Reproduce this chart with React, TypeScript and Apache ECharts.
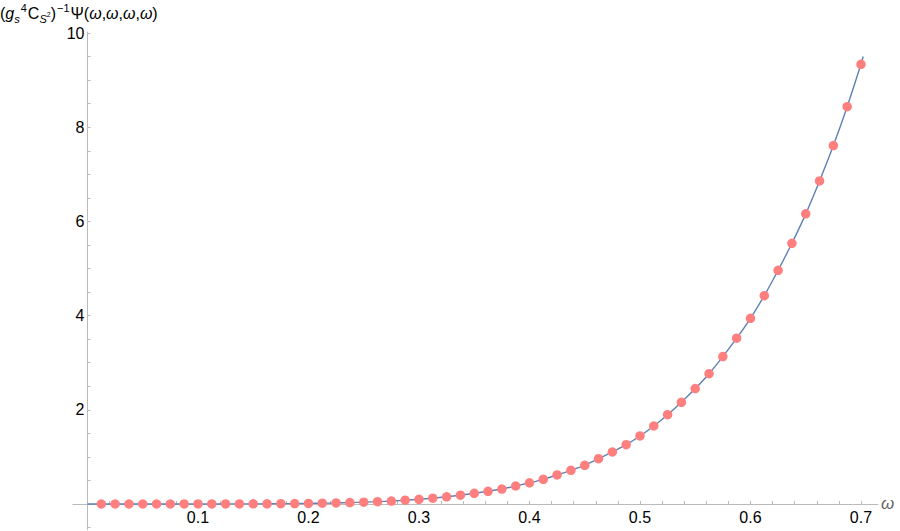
import React, { useEffect, useRef } from "react";
import * as echarts from "echarts";

// sample points (red dots)
const omega = [
  0.0125, 0.025, 0.0375, 0.05, 0.0625, 0.075, 0.0875, 0.1, 0.1125, 0.125,
  0.1375, 0.15, 0.1625, 0.175, 0.1875, 0.2, 0.2125, 0.225, 0.2375, 0.25,
  0.2625, 0.275, 0.2875, 0.3, 0.3125, 0.325, 0.3375, 0.35, 0.3625, 0.375,
  0.3875, 0.4, 0.4125, 0.425, 0.4375, 0.45, 0.4625, 0.475, 0.4875, 0.5,
  0.5125, 0.525, 0.5375, 0.55, 0.5625, 0.575, 0.5875, 0.6, 0.6125, 0.625,
  0.6375, 0.65, 0.6625, 0.675, 0.6875, 0.7,
];
const psiValues = [
  0, 0, 0, 0, 0.0001, 0.0001, 0.0002, 0.0004, 0.0007, 0.0012,
  0.0019, 0.0029, 0.0043, 0.0062, 0.0088, 0.0122, 0.0167, 0.0226, 0.03, 0.039,
  0.05, 0.063, 0.08, 0.1, 0.124, 0.153, 0.187, 0.227, 0.27, 0.318,
  0.382, 0.45, 0.524, 0.616, 0.715, 0.822, 0.962, 1.104, 1.259, 1.444,
  1.656, 1.896, 2.159, 2.45, 2.767, 3.13, 3.52, 3.943, 4.423, 4.962,
  5.535, 6.16, 6.86, 7.61, 8.435, 9.335,
];
// curve end points (blue line extends from 0 to slightly past 0.7)
const curveStart = [0, 0];
const curveEnd = [0.702, 9.5];

const xTickLabels = [0.1, 0.2, 0.3, 0.4, 0.5, 0.6, 0.7];
const yTickLabels = [2, 4, 6, 8, 10];

// plot ranges (include Mathematica-style padding around the axes)
const X_MIN = -0.0132;
const X_MAX = 0.7154;
const Y_MIN = -0.55;
const Y_MAX = 10.02;

export default function App() {
  const ref = useRef<HTMLDivElement>(null);
  useEffect(() => {
    if (!ref.current) return;
    const W = 900;
    const H = 531;
    const grid = { left: 72.9, right: 22, top: 32.06, bottom: 1.1 };
    const gw = W - grid.left - grid.right;
    const gh = H - grid.top - grid.bottom;
    // shift the axes so that they cross at the origin
    const xAxisOffset = -((0 - Y_MIN) / (Y_MAX - Y_MIN)) * gh;
    const yAxisOffset = -((0 - X_MIN) / (X_MAX - X_MIN)) * gw;

    const chart = echarts.init(ref.current, null, { renderer: "svg" });

    const dots = omega.map((w, i) => [w, psiValues[i]]);
    const curve = [curveStart, ...dots, curveEnd];

    const xMinor: number[] = [];
    for (let i = 1; i <= 35; i++) xMinor.push(+(i * 0.02).toFixed(2));
    const yMinor: number[] = [-0.5];
    for (let i = 1; i <= 20; i++) yMinor.push(i * 0.5);

    const axisGray = "#BBBBBB";
    const font = "Liberation Sans, Arial, sans-serif";

    chart.setOption({
      animation: false,
      backgroundColor: "#ffffff",
      grid: {
        ...grid,
        containLabel: false,
        outerBoundsMode: "none",
      },
      xAxis: {
        type: "value",
        min: X_MIN,
        max: X_MAX,
        offset: xAxisOffset,
        name: "ω",
        nameLocation: "end",
        nameGap: 3,
        nameMoveOverlap: false,
        nameTextStyle: {
          fontStyle: "italic",
          color: "#666666",
          fontSize: 17,
          fontFamily: font,
          verticalAlign: "middle",
        },
        axisLine: { show: true, onZero: false, lineStyle: { color: axisGray, width: 1 } },
        axisTick: {
          show: true,
          inside: true,
          length: 3,
          customValues: xMinor,
          lineStyle: { color: axisGray },
        },
        axisLabel: {
          customValues: xTickLabels,
          formatter: (v: number) => v.toFixed(1),
          color: "#000000",
          fontSize: 16,
          fontFamily: font,
          margin: 6,
        },
        splitLine: { show: false },
      },
      yAxis: {
        type: "value",
        min: Y_MIN,
        max: Y_MAX,
        offset: yAxisOffset,
        axisLine: { show: true, onZero: false, lineStyle: { color: axisGray, width: 1 } },
        axisTick: {
          show: true,
          inside: true,
          length: 3,
          customValues: yMinor,
          lineStyle: { color: axisGray },
        },
        axisLabel: {
          customValues: yTickLabels,
          formatter: (v: number) => String(v),
          color: "#000000",
          fontSize: 16,
          fontFamily: font,
          margin: 3,
        },
        splitLine: { show: false },
      },
      graphic: [
        {
          type: "text",
          left: 0,
          top: 1,
          style: {
            text:
              "{n|(}{i|g}{sub|s}{sup|4}{n|C}{sub|S}{sup2|2}{n|)}{sup|−1}{n|Ψ(}{i|ω}{n|,}{i|ω}{n|,}{i|ω}{n|,}{i|ω}{n|)}",
            rich: {
              n: { fontSize: 16, color: "#666666", fontFamily: font, lineHeight: 24, verticalAlign: "middle" },
              i: { fontSize: 16, color: "#666666", fontFamily: font, fontStyle: "italic", lineHeight: 24, verticalAlign: "middle" },
              sub: { fontSize: 11, color: "#666666", fontFamily: font, fontStyle: "italic", lineHeight: 24, verticalAlign: "bottom", padding: [0, 0, 1, 0] },
              sup: { fontSize: 11, color: "#666666", fontFamily: font, lineHeight: 24, verticalAlign: "top", padding: [1, 1, 0, 1] },
              sup2: { fontSize: 7, color: "#666666", fontFamily: font, lineHeight: 24, verticalAlign: "bottom", padding: [0, 0, 7, 0] },
            },
          },
        },
      ],
      series: [
        {
          type: "line",
          data: curve,
          showSymbol: false,
          smooth: 0.3,
          lineStyle: { color: "#5E81B5", width: 1.4 },
          z: 2,
        },
        {
          type: "scatter",
          data: dots,
          symbol: "circle",
          symbolSize: 9.5,
          itemStyle: { color: "#FF7F7F", opacity: 1 },
          z: 3,
        },
      ],
    });
    return () => chart.dispose();
  }, []);
  return (
    <div
      ref={ref}
      style={{ position: "fixed", left: 0, top: 0, width: 900, height: 531 }}
    />
  );
}
